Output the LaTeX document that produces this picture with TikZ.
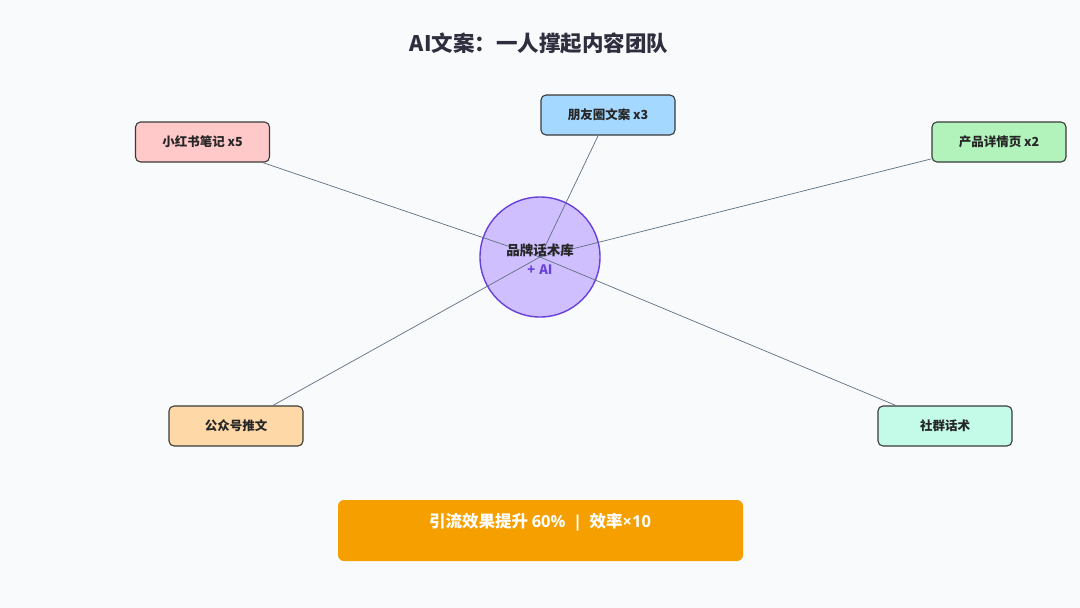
\documentclass[tikz,border=0pt]{standalone}
\usepackage{fontspec}
\setmainfont{Noto Sans CJK SC}
\newfontfamily\lat{Open Sans}
\usetikzlibrary{calc}
\definecolor{bg}{HTML}{F8FAFC}
\definecolor{titlec}{HTML}{2E2E3E}
\definecolor{edgec}{HTML}{5F7080}
\definecolor{boxline}{HTML}{3A3A3A}
\definecolor{pinkf}{HTML}{FFC9C9}
\definecolor{bluef}{HTML}{A5D8FF}
\definecolor{greenf}{HTML}{B2F2BB}
\definecolor{orangef}{HTML}{FFD8A8}
\definecolor{mintf}{HTML}{C3FAE8}
\definecolor{hubf}{HTML}{D0BFFF}
\definecolor{hubl}{HTML}{6741D9}
\definecolor{barf}{HTML}{F59F00}
\tikzset{
  leaf/.style={draw=boxline, line width=1.1pt, rounded corners=5pt,
    minimum width=134pt, minimum height=40pt, inner sep=0pt,
    font=\bfseries\fontsize{12.5}{14}\selectfont, text=black!85},
  link/.style={draw=edgec, line width=0.7pt},
}
\begin{document}
\begin{tikzpicture}[x=1pt,y=-1pt]
\fill[bg] (0,0) rectangle (1080,608);
\useasboundingbox (0,0) rectangle (1080,608);
\node[font=\bfseries\fontsize{21.5}{25}\selectfont, text=titlec] (title) at (539,43) {AI文案：一人撑起内容团队};
\coordinate (c) at (540,257);
\node[leaf, fill=pinkf] (xhs) at (202.5,142) {小红书笔记 x5};
\node[leaf, fill=bluef] (pyq) at (608,115) {朋友圈文案 x3};
\node[leaf, fill=greenf] (cp) at (999,142) {产品详情页 x2};
\node[leaf, fill=orangef] (gzh) at (236,426) {公众号推文};
\node[leaf, fill=mintf] (sq) at (945,426) {社群话术};
\node[circle, draw=hubl, line width=1.4pt, fill=hubf, minimum size=120pt, inner sep=0pt] (hub) at (c) {};
\foreach \n in {xhs,pyq,cp,gzh,sq} \draw[link] (c) -- (\n);
\node[font=\bfseries\fontsize{13.5}{15}\selectfont, text=black!85] (hubt1) at (540,250) {品牌话术库};
\node[font=\bfseries\fontsize{13}{15}\selectfont, text=hubl] (hubt2) at (540,270) {+\hspace{4pt}AI};
\node[fill=barf, rounded corners=6pt, minimum width=405pt, minimum height=61pt, inner sep=0pt] (bar) at (540.5,530.5) {};
\node[font=\bfseries\fontsize{16.5}{19}\selectfont, text=white] (bart) at (540,522) {引流效果提升 {\lat\bfseries 60\%}\ \ {\lat\bfseries |}\ \ 效率{\lat\bfseries ×10}};
\end{tikzpicture}
\end{document}
